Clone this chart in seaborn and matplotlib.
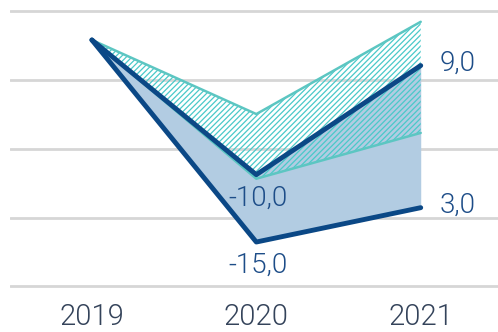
import numpy as np
import pandas as pd
import matplotlib
matplotlib.use("Agg")
import matplotlib.pyplot as plt
import seaborn as sns

# ---- data ----
years = ["2019", "2020", "2021"]
scenario_high = [100.0, 90.0, 98.1]      # dark line (upper)
scenario_low = [100.0, 85.0, 87.55]      # dark line (lower)
range_upper = [100.0, 94.5, 101.35]      # teal upper bound
range_lower = [100.0, 89.7, 93.1]        # teal lower bound
labels_high = ["", "-10,0", "9,0"]
labels_low = ["", "-15,0", "3,0"]
grid_levels = [81.74, 86.79, 91.91, 97.03, 102.15]

DARK = "#0b4886"
FILL = "#b2cce2"
TEAL = "#5cc6c2"
HATCH = "#49c9c9"
GRID = "#d6d6d6"
LABEL = "#1d4d88"
TICK = "#34435a"

sns.set_theme(style="white")
plt.rcParams["font.family"] = ["Roboto", "DejaVu Sans"]
plt.rcParams["hatch.linewidth"] = 0.9
plt.rcParams["hatch.color"] = HATCH

df = pd.DataFrame({
    "x": np.arange(len(years)),
    "high": scenario_high,
    "low": scenario_low,
    "rup": range_upper,
    "rlo": range_lower,
})

fig = plt.figure(figsize=(4.98, 3.32), dpi=100)
ax = fig.add_axes([10 / 498, 1 - 292 / 332, 1 - 10 / 498, (292 - 4) / 332])

x = df["x"].values
ax.fill_between(x, df["low"], df["high"], color=FILL, lw=0, zorder=1)
ax.fill_between(x, df["rlo"], df["rup"], facecolor="none", edgecolor=HATCH,
                hatch="//////", lw=0, zorder=2)

sns.lineplot(data=df, x="x", y="rup", color=TEAL, lw=1.8, ax=ax, zorder=3)
sns.lineplot(data=df, x="x", y="rlo", color=TEAL, lw=1.8, ax=ax, zorder=3)
sns.lineplot(data=df, x="x", y="high", color=DARK, lw=3.5, ax=ax, zorder=4)
sns.lineplot(data=df, x="x", y="low", color=DARK, lw=3.5, ax=ax, zorder=4)

WEIGHT = 300
for i in range(len(years)):
    if labels_high[i]:
        off = (2, -24) if i == 1 else (37, 2)
        ax.annotate(labels_high[i], (x[i], scenario_high[i]), xytext=off,
                    textcoords="offset pixels", ha="center", va="center",
                    fontsize=20, fontweight=WEIGHT, color=LABEL, zorder=5)
    if labels_low[i]:
        off = (2, -23) if i == 1 else (37, 2)
        ax.annotate(labels_low[i], (x[i], scenario_low[i]), xytext=off,
                    textcoords="offset pixels", ha="center", va="center",
                    fontsize=20, fontweight=WEIGHT, color=LABEL, zorder=5)

ax.set_xlim(-0.498, 2.47)
ax.set_ylim(81.29, 102.67)
ax.set_yticks(grid_levels)
ax.set_yticklabels([])
ax.yaxis.grid(True, color=GRID, lw=2)
ax.xaxis.grid(False)
ax.set_xticks(x)
ax.set_xticklabels(years, fontsize=21, fontweight=WEIGHT, color=TICK)
ax.tick_params(axis="x", length=0, pad=8)
ax.tick_params(axis="y", length=0)
ax.set_xlabel("")
ax.set_ylabel("")
for s in ax.spines.values():
    s.set_visible(False)

fig.savefig("out.png", dpi=100)
